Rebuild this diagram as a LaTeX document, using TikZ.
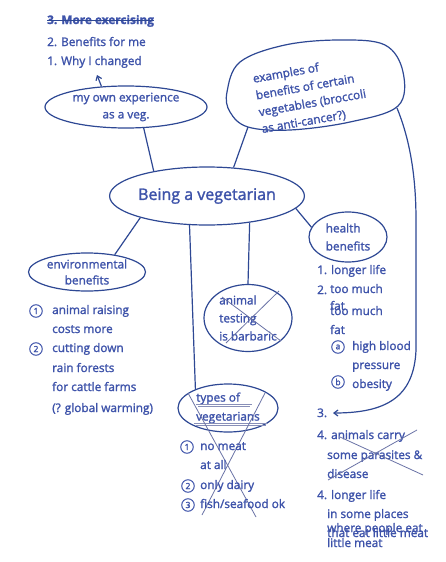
\documentclass[tikz,border=0pt]{standalone}
\usepackage{fontspec}
\setmainfont{Open Sans}
\newfontfamily\hand{Open Sans}[FakeBold=1.6]
\usetikzlibrary{shapes.geometric,arrows.meta}
\definecolor{ink}{HTML}{3E53AA}
\definecolor{pen}{HTML}{2E4894}
\definecolor{cross}{HTML}{6A73A6}
\begin{document}
\begin{tikzpicture}[x=1pt,y=-1pt,
  txt/.style={text=ink,font=\hand\fontsize{11.8}{17}\selectfont,inner sep=0pt,anchor=base west},
  bub/.style={ellipse,draw=pen,line width=1.2pt,inner sep=0pt,text=ink,
    font=\hand\fontsize{11.8}{17}\selectfont,align=center},
  con/.style={draw=pen,line width=1.2pt},
  xmark/.style={draw=cross,line width=0.8pt},
  num/.style={circle,draw=ink,line width=1pt,inner sep=0.5pt,minimum size=12.5pt,
    text=ink,font=\hand\fontsize{8.5}{8.5}\selectfont},
  tip/.style={-{Straight Barb[length=4pt,width=6pt]}}]
\useasboundingbox (0,0) rectangle (445,562);
\fill[white] (0,0) rectangle (445,562);

% top list
\node[txt,font=\hand\fontsize{11.8}{17}\selectfont\bfseries] (l3) at (47,24) {3. More exercising};
\draw[pen,line width=1.2pt] ([yshift=3.8pt]l3.base west) -- ([yshift=3.8pt]l3.base east);
\node[txt] (l2) at (47,46) {2. Benefits for me};
\node[txt] (l1) at (47,65) {1. Why I changed};
\coordinate (whytip) at (97,75);

% bubbles
\node[bub,minimum width=162pt,minimum height=42pt] (own) at (126,107) {my own experience\\as a veg.};
\draw[pen,line width=1.2pt] plot[smooth cycle,tension=0.6] coordinates
  {(227,92) (240,62) (285,45) (340,40) (385,45) (403,72) (398,106) (350,122) (290,130) (248,127) (230,112)};
\coordinate (exA) at (248,127);
\coordinate (exB) at (397,108);
\node[text=ink,font=\hand\fontsize{11.8}{17}\selectfont,align=left,rotate=10,inner sep=0pt] (extext) at (311,95)
  {examples of\\benefits of certain\\vegetables (broccoli\\as anti-cancer?)};
\node[bub,minimum width=188pt,minimum height=58pt,font=\hand\fontsize{16}{17}\selectfont] (main) at (207,196) {Being a vegetarian};
\node[bub,minimum width=117pt,minimum height=38pt,font=\hand\fontsize{11.8}{16}\selectfont] (env) at (87,272) {environmental\\benefits};
\node[bub,minimum width=78pt,minimum height=50pt,align=left,font=\hand\fontsize{11.8}{18}\selectfont] (health) at (348,237) {health\\benefits};
\node[bub,minimum width=88pt,minimum height=67pt,align=left,font=\hand\fontsize{11.8}{18}\selectfont] (testing) at (248,318) {animal\\testing\\is barbaric};
\node[bub,minimum width=100pt,minimum height=48pt,align=left,font=\hand\fontsize{11.8}{19}\selectfont] (types) at (228,408) {types of\\vegetarians};

% connectors
\draw[con,tip] (own.140) -- (whytip);
\draw[con] (own.-50) -- (main.155);
\draw[con] (exA) -- (main.47);
\draw[con] (main.-162) -- (env.32);
\draw[con] (main.-121) -- (types.150);
\draw[con] (main.-32) -- (testing.north);
\draw[con] (main.-8) -- (health.165);
\coordinate (arr3) at (333,413);
\draw[con,tip] (exB) .. controls (408,135) and (416,170) .. (416,220)
  -- (416,350) .. controls (414,398) and (385,413) .. (arr3);

% crosses and underlines
\draw[xmark] (222,297) -- (281,341);
\draw[xmark] (279,291) -- (226,343);
\draw[cross!80,line width=0.8pt] (196,404) -- (252,404) (198,406.5) -- (250,406.5);
\draw[cross!80,line width=0.8pt] (194,423) -- (268,423) (196,425.5) -- (266,425.5);
\draw[xmark] (188,393) -- (256,517);
\draw[xmark] (265,393) -- (202,515);

% environmental list
\node[num] (e1) at (36,311) {1};
\node[txt] at (52,314) {animal raising};
\node[txt] at (52,333) {costs more};
\node[num] (e2) at (36,349) {2};
\node[txt] at (52,352) {cutting down};
\node[txt] at (52,372) {rain forests};
\node[txt] at (52,391) {for cattle farms};
\node[txt] at (52,412) {(? global warming)};

% types list
\node[num] (t1) at (187,447) {1};
\node[txt] at (200,450) {no meat};
\node[txt] at (200,469) {at all};
\node[num] (t2) at (188,486) {2};
\node[txt] at (200,489) {only dairy};
\node[num] (t3) at (188,505) {3};
\node[txt] at (200,508) {fish/seafood ok};

% health list
\node[txt] at (317,274) {1. longer life};
\node[txt] at (317,294) {2.};
\node[txt] at (330,293) {too much};
\node[txt] at (330,310) {fat};
\node[txt] at (330,315) {too much};
\node[txt] at (330,334) {fat};
\node[num] (ha) at (338,347) {a};
\node[txt] at (352,350) {high blood};
\node[txt] at (352,369) {pressure};
\node[num] (hb) at (338,382) {b};
\node[txt] at (352,388) {obesity};

% lower right list
\node[txt] (three) at (317,417) {3.};
\node[txt] at (317,439) {4. animals carry};
\node[txt] at (327,459) {some parasites \&};
\node[txt] at (327,478) {disease};
\draw[xmark] (340,437) -- (423,475);
\draw[xmark] (417,430) -- (328,480);
\node[txt] at (317,499) {4. longer life};
\node[txt] at (327,518) {in some places};
\node[txt] at (327,532) {where people eat};
\node[txt] at (327,537) {that eat little meat};
\node[txt] at (327,547) {little meat};
\end{tikzpicture}
\end{document}
